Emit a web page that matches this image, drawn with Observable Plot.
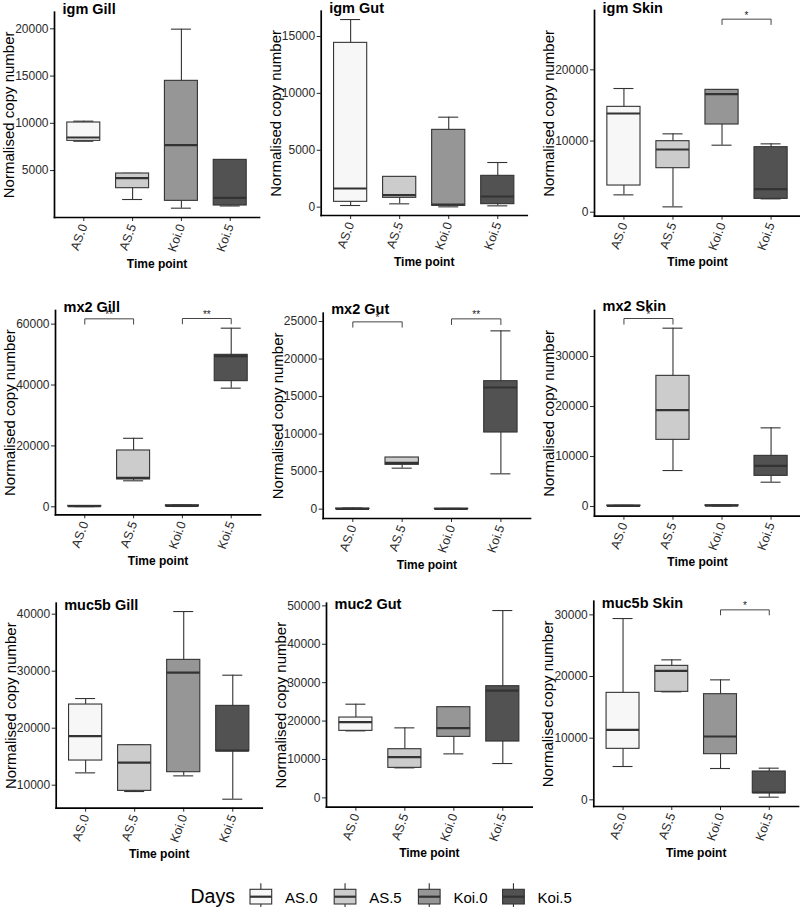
<!DOCTYPE html>
<html><head><meta charset="utf-8">
<script src="https://cdn.jsdelivr.net/npm/d3@7"></script>
<script src="https://cdn.jsdelivr.net/npm/@observablehq/plot@0.6"></script>
<style>
body{margin:0;background:#fff;}
#chart{position:relative;width:800px;height:907px;background:#fff;overflow:hidden;font-family:"Liberation Sans",Arial,sans-serif;}
#chart svg{position:absolute;overflow:visible;}
</style></head><body><div id="chart"></div>
<script>
// ---------- data ----------
const days = ["AS.0", "AS.5", "Koi.0", "Koi.5"];
const dayFills = ["#f7f7f7", "#cccccc", "#969696", "#525252"];
const panelTitles = ["igm Gill", "igm Gut", "igm Skin", "mx2 Gill", "mx2 Gut", "mx2 Skin", "muc5b Gill", "muc2 Gut", "muc5b Skin"];
const yLabel = "Normalised copy number";
const xLabel = "Time point";
const legendTitle = "Days";

// box statistics per day: [min, q1, median, q3, max]
const igmGill   = [[8100, 8144, 8497, 10085, 10226], [1934, 3133, 4192, 4686, 4700], [1016, 1792, 7685, 14495, 19965], [1250, 1298, 2108, 6131, 6131]];
const igmGut    = [[146, 469, 1640, 14441, 16491], [293, 820, 1054, 2666, 2666], [29, 117, 234, 6796, 7909], [117, 264, 937, 2754, 3925]];
const igmSkin   = [[2436, 3747, 13864, 14801, 17377], [749, 6183, 8806, 9977, 11007], [9415, 12319, 16581, 17190, 17190], [1874, 1874, 3232, 9133, 9602]];
const mx2Gill   = [[50, 100, 200, 300, 400], [8539, 8976, 9524, 18500, 22500], [100, 200, 300, 500, 600], [38970, 41270, 49480, 49918, 58670]];
const mx2Gut    = [[0, 20, 50, 80, 150], [5462, 5906, 6172, 6883, 6883], [0, 20, 40, 60, 100], [4707, 10213, 16208, 17052, 23757]];
const mx2Skin   = [[50, 100, 150, 200, 250], [7200, 13333, 19267, 26133, 35667], [100, 150, 200, 250, 300], [4867, 6133, 8133, 10133, 15733]];
const muc5bGill = [[12164, 14327, 18596, 24152, 25205], [8889, 9006, 13977, 17018, 17018], [11637, 12281, 29766, 31988, 40468], [7544, 15965, 16082, 23918, 29298]];
const muc2Gut   = [[17448, 17448, 19705, 20920, 24392], [7813, 7813, 10590, 12674, 18229], [11458, 15885, 18142, 23611, 23611], [8941, 14670, 27951, 29080, 48785]];
const muc5bSkin = [[5405, 8270, 11351, 17351, 29405], [17514, 17514, 20919, 21730, 22703], [5081, 7405, 10270, 17135, 19459], [432, 1081, 1189, 4595, 5135]];
const panelStats = [igmGill, igmGut, igmSkin, mx2Gill, mx2Gut, mx2Skin, muc5bGill, muc2Gut, muc5bSkin];

const yTicks = [
  [5000, 10000, 15000, 20000],
  [0, 5000, 10000, 15000],
  [0, 10000, 20000],
  [0, 20000, 40000, 60000],
  [0, 5000, 10000, 15000, 20000, 25000],
  [0, 10000, 20000, 30000],
  [10000, 20000, 30000, 40000],
  [0, 10000, 20000, 30000, 40000, 50000],
  [0, 10000, 20000, 30000]
];
const yDomains = [
  [30, 21760], [-732, 17223], [-562, 28337],
  [-2627, 64477], [-1243, 26110], [-1933, 39200],
  [5965, 41930], [-2431, 50694], [-1081, 32216]
];

// significance brackets
const brackets = [
  {panel: "igm Skin", from: "Koi.0", to: "Koi.5", y: 27119, tip: 750, label: "*"},
  {panel: "mx2 Gill", from: "AS.0", to: "AS.5", y: 61740, tip: 1750, label: "**"},
  {panel: "mx2 Gill", from: "Koi.0", to: "Koi.5", y: 61850, tip: 1750, label: "**"},
  {panel: "mx2 Gut", from: "AS.0", to: "AS.5", y: 24956, tip: 711, label: "*"},
  {panel: "mx2 Gut", from: "Koi.0", to: "Koi.5", y: 25355, tip: 755, label: "**"},
  {panel: "mx2 Skin", from: "AS.0", to: "AS.5", y: 37600, tip: 1133, label: "*"},
  {panel: "muc5b Skin", from: "Koi.0", to: "Koi.5", y: 30811, tip: 811, label: "*"}
];

// ---------- layout (pixels) ----------
const colLeft = [0, 265, 530], colWidth = [265, 268, 270];
const rowTop = [0, 288, 578], rowHeight = 290;
const layout = [
  {axisX: 54,    plotTop: 11.7,  axisY: 217,   right: 259,   titleDy: 1.5},
  {axisX: 320.7, plotTop: 10.7,  axisY: 215,   right: 526.7, titleDy: 1.5},
  {axisX: 594,   plotTop: 10,    axisY: 215.7, right: 800,   titleDy: 2},
  {axisX: 55,    plotTop: 310,   axisY: 514.3, right: 260,   titleDy: 1},
  {axisX: 322.7, plotTop: 312.7, axisY: 518,   right: 530,   titleDy: 0.5},
  {axisX: 594,   plotTop: 310,   axisY: 515.7, right: 800,   titleDy: 0.5},
  {axisX: 55.7,  plotTop: 602.7, axisY: 807.7, right: 261.7, titleDy: 6.5},
  {axisX: 326,   plotTop: 602.7, axisY: 806.7, right: 531.7, titleDy: 5.6},
  {axisX: 593.3, plotTop: 600.7, axisY: 806,   right: 798,   titleDy: 6.6}
];

const font = "Liberation Sans, Arial, Helvetica, sans-serif";
const chart = document.getElementById("chart");

panelTitles.forEach((title, i) => {
  const L = layout[i];
  const c = i % 3, r = Math.floor(i / 3);
  const left = colLeft[c], top = rowTop[r], W = colWidth[c], H = rowHeight;
  const rows = panelStats[i].map((s, j) => ({day: days[j], min: s[0], q1: s[1], med: s[2], q3: s[3], max: s[4]}));
  const mL = L.axisX - left, mR = left + W - L.right, mT = L.plotTop - top, mB = top + H - L.axisY;
  const pi = 0.324, po = 0.262;
  const step = (L.right - L.axisX) / (days.length - pi + 2 * po);
  const bw = step * (1 - pi);
  const capInset = (bw - 20) / 2;
  const br = brackets.filter(b => b.panel === title);
  const brPts = br.flatMap((b, k) => [
    {k, x: b.from, y: b.y - b.tip}, {k, x: b.from, y: b.y}, {k, x: b.to, y: b.y}, {k, x: b.to, y: b.y - b.tip}
  ]);
  const plot = Plot.plot({
    width: W, height: H,
    marginLeft: mL, marginRight: mR, marginTop: mT, marginBottom: mB,
    style: {background: "transparent", fontFamily: font, fontSize: "12px", color: "#2a2a2a", overflow: "visible"},
    x: {type: "band", domain: days, paddingInner: pi, paddingOuter: po, round: false, label: null},
    y: {domain: yDomains[i], label: null},
    color: {domain: days, range: dayFills},
    marks: [
      Plot.ruleX(rows, {x: "day", y1: "min", y2: "max", stroke: "#333", strokeWidth: 1.1}),
      Plot.tickY(rows, {x: "day", y: "min", inset: capInset, stroke: "#333", strokeWidth: 1.1}),
      Plot.tickY(rows, {x: "day", y: "max", inset: capInset, stroke: "#333", strokeWidth: 1.1}),
      Plot.barY(rows, {x: "day", y1: "q1", y2: "q3", fill: "day", stroke: "#333", strokeWidth: 1.1}),
      Plot.tickY(rows, {x: "day", y: "med", stroke: "#333", strokeWidth: 2.2}),
      Plot.line(brPts, {x: "x", y: "y", z: "k", stroke: "#444", strokeWidth: 1}),
      Plot.text(br, {x: "from", y: "y", text: "label", dx: step / 2, dy: -0.5, lineAnchor: "bottom", fontSize: 10, fill: "#222"}),
      Plot.axisY({ticks: yTicks[i], tickFormat: d => String(d), tickSize: 4, tickPadding: 2, fontSize: 12, label: null}),
      Plot.axisX({tickSize: 4, tickRotate: -70, tickPadding: 3, fontSize: 12.5, label: null}),
      Plot.frame({anchor: "left", stroke: "#000", strokeWidth: 1.7}),
      Plot.frame({anchor: "bottom", stroke: "#000", strokeWidth: 1.7}),
      Plot.text([title], {text: d => d, frameAnchor: "top-left", dx: 8, dy: L.titleDy, lineAnchor: "bottom", textAnchor: "start", fontWeight: "bold", fontSize: 14.5, fill: "#000"}),
      Plot.text([yLabel], {text: d => d, frameAnchor: "left", dx: -45.5, rotate: -90, textAnchor: "middle", lineAnchor: "middle", fontSize: 15, fill: "#000"}),
      Plot.text([xLabel], {text: d => d, frameAnchor: "bottom", dy: 50, textAnchor: "middle", fontWeight: "bold", fontSize: 12, fill: "#000"})
    ]
  });
  plot.style.left = left + "px";
  plot.style.top = top + "px";
  plot.style.position = "absolute";
  chart.appendChild(plot);
});

// ---------- legend ----------
const leg = d3.select(chart).append("svg")
  .attr("width", 800).attr("height", 37)
  .style("left", "0px").style("top", "870px")
  .attr("font-family", font);
leg.append("text").attr("x", 190.5).attr("y", 33.3).attr("font-size", 19.5).attr("fill", "#000").text(legendTitle);
days.forEach((d, j) => {
  const x0 = 250 + j * 84.2, kw = 21.7, cx = x0 + kw / 2;
  const g = leg.append("g");
  g.append("line").attr("x1", cx).attr("x2", cx).attr("y1", 13.3).attr("y2", 38.3).attr("stroke", "#333").attr("stroke-width", 1.1);
  g.append("rect").attr("x", x0).attr("y", 19.3).attr("width", kw).attr("height", 14.7)
    .attr("fill", dayFills[j]).attr("stroke", "#333").attr("stroke-width", 1.1);
  g.append("line").attr("x1", x0).attr("x2", x0 + kw).attr("y1", 26.7).attr("y2", 26.7).attr("stroke", "#333").attr("stroke-width", 2.2);
  leg.append("text").attr("x", x0 + 35).attr("y", 33.3).attr("font-size", 15).attr("fill", "#000").text(d);
});
</script></body></html>
